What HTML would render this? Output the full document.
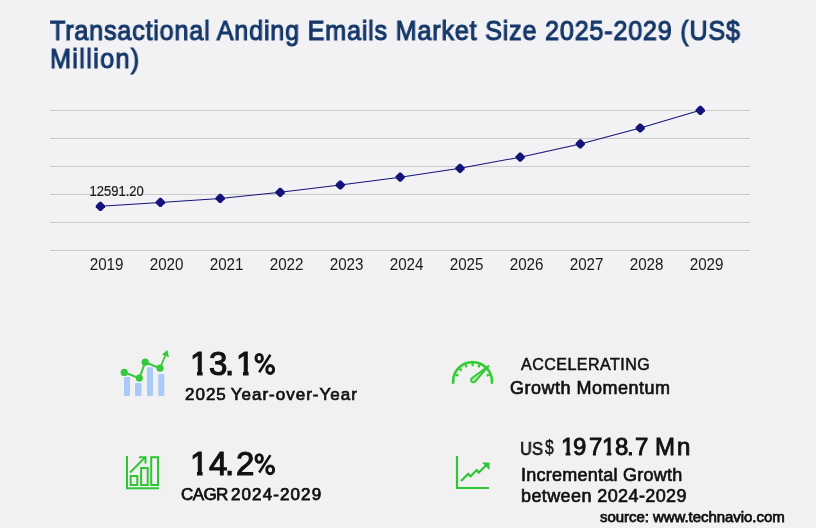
<!DOCTYPE html>
<html>
<head>
<meta charset="utf-8">
<style>
html,body{margin:0;padding:0;}
body{width:816px;height:528px;overflow:hidden;background:#f2f2f5;position:relative;font-family:"Liberation Sans",sans-serif;}
.t{position:absolute;white-space:nowrap;line-height:1;will-change:transform;}
#title{left:50px;top:16.5px;font-size:28px;font-weight:400;color:#163869;-webkit-text-stroke:1.1px #163869;letter-spacing:0.86px;line-height:28px;transform:scaleX(0.9);transform-origin:0 0;}
#panel{position:absolute;left:31px;top:330px;width:761px;height:166px;background:#f1f1f1;}
svg{position:absolute;left:0;top:0;will-change:transform;}
.g{will-change:transform;position:absolute;line-height:1;white-space:nowrap;font-size:33px;color:#111;-webkit-text-stroke:1.1px #111;}
.g2{will-change:transform;position:absolute;line-height:1;white-space:nowrap;font-size:24px;color:#111;-webkit-text-stroke:0.9px #111;}
.one2{clip-path:polygon(0 0,100% 0,100% 17px,9.4px 17px,9.4px 30px,4.6px 30px,4.6px 17px,0 17px);}
.one{clip-path:polygon(0 0,100% 0,100% 25px,12.6px 25px,12.6px 40px,7px 40px,7px 25px,0 25px);}
.m{color:#111;font-weight:400;-webkit-text-stroke:0.65px #111;}
</style>
</head>
<body>
<div id="panel"></div>
<div class="t" id="title">Transactional Anding Emails Market Size 2025-2029 (US$<br><span style="letter-spacing:1.5px">Million)</span></div>

<svg width="816" height="528" viewBox="0 0 816 528">
  <g stroke="#e8ecee" stroke-width="1" stroke-dasharray="1.5,1">
    <line x1="35.5" y1="496" x2="19.5" y2="528"/>
    <line x1="782" y1="496" x2="797.5" y2="528"/>
  </g>
  <g stroke="#cccccc" stroke-width="1">
    <line x1="50" y1="110.5" x2="750" y2="110.5"/>
    <line x1="50" y1="138.5" x2="750" y2="138.5"/>
    <line x1="50" y1="166.5" x2="750" y2="166.5"/>
    <line x1="50" y1="194.5" x2="750" y2="194.5"/>
    <line x1="50" y1="222.5" x2="750" y2="222.5"/>
    <line x1="50" y1="250.5" x2="750" y2="250.5"/>
  </g>
  <polyline fill="none" stroke="#14137a" stroke-width="1.05" points="100.4,206.3 160.4,202.4 220.2,198.4 280.2,192.3 340.3,185 400.2,177.2 460,168.3 520.2,157.2 580.3,143.9 640.2,128 700.3,110.3"/>
  <g fill="#14137a">
    <path id="d" d="M-0.9,-4.6 L0.9,-4.6 L4.6,-0.9 L4.6,0.9 L0.9,4.6 L-0.9,4.6 L-4.6,0.9 L-4.6,-0.9Z" transform="translate(100.4,206.3)"/>
    <use href="#d" x="60" y="-3.9"/>
    <use href="#d" x="119.8" y="-7.9"/>
    <use href="#d" x="179.8" y="-14"/>
    <use href="#d" x="239.9" y="-21.3"/>
    <use href="#d" x="299.8" y="-29.1"/>
    <use href="#d" x="359.6" y="-38"/>
    <use href="#d" x="419.8" y="-49.1"/>
    <use href="#d" x="479.9" y="-62.4"/>
    <use href="#d" x="539.8" y="-78.3"/>
    <use href="#d" x="599.9" y="-96"/>
  </g>
  <g font-family="Liberation Sans" font-size="16" fill="#1a1a1a" text-anchor="middle">
    <text x="0" y="0" transform="translate(106.6,270.3) scale(0.95,1)">2019</text>
    <text x="0" y="0" transform="translate(166.6,270.3) scale(0.95,1)">2020</text>
    <text x="0" y="0" transform="translate(226.6,270.3) scale(0.95,1)">2021</text>
    <text x="0" y="0" transform="translate(286.6,270.3) scale(0.95,1)">2022</text>
    <text x="0" y="0" transform="translate(346.6,270.3) scale(0.95,1)">2023</text>
    <text x="0" y="0" transform="translate(406.6,270.3) scale(0.95,1)">2024</text>
    <text x="0" y="0" transform="translate(466.6,270.3) scale(0.95,1)">2025</text>
    <text x="0" y="0" transform="translate(526.6,270.3) scale(0.95,1)">2026</text>
    <text x="0" y="0" transform="translate(586.6,270.3) scale(0.95,1)">2027</text>
    <text x="0" y="0" transform="translate(646.6,270.3) scale(0.95,1)">2028</text>
    <text x="0" y="0" transform="translate(706.6,270.3) scale(0.95,1)">2029</text>
  </g>
  <text x="0" y="0" transform="translate(89.5,196.2) scale(0.93,1)" font-family="Liberation Sans" font-size="14" fill="#1a1a1a" stroke="#1a1a1a" stroke-width="0.2">12591.20</text>

  
  <!-- percent glyphs -->
  <g id="pct" fill="none" stroke="#111">
    <ellipse cx="259.2" cy="358.2" rx="3.2" ry="3.85" stroke-width="2.9"/>
    <ellipse cx="270.2" cy="369.5" rx="3.45" ry="3.95" stroke-width="2.9"/>
    <line x1="270.4" y1="354.8" x2="259.2" y2="372.2" stroke-width="2.5"/>
  </g>
  <use href="#pct" x="0" y="100.3"/>

  <!-- icon 1: bars + line -->
  <g fill="#a9c9f7">
    <rect x="124" y="377" width="6" height="19" rx="1"/>
    <rect x="135" y="383" width="6.5" height="13" rx="1"/>
    <rect x="147" y="367.3" width="6" height="28.7" rx="1"/>
    <rect x="158.3" y="374" width="6" height="22" rx="1"/>
  </g>
  <g stroke="#36c83c" stroke-width="2" fill="none" stroke-linecap="round">
    <polyline points="124.2,372.4 139.3,378.1 145.2,362.2 160,368.2"/>
    <line x1="160" y1="368.2" x2="165.5" y2="355" stroke-width="1.7"/>
  </g>
  <g fill="#36c83c">
    <circle cx="124.2" cy="372.4" r="3.6"/>
    <circle cx="139.3" cy="378.1" r="3.6"/>
    <circle cx="145.2" cy="362.2" r="3.6"/>
    <circle cx="160" cy="368.2" r="3.6"/>
    <path d="M167.3,350 L169,357.2 L162,354.6Z"/>
  </g>

  <!-- icon 2: gauge -->
  <g stroke="#33cc33" fill="none" stroke-width="2.6">
    <path d="M453.10,383.8 L453.10,381.5 A19.45,19.45 0 0 1 492.00,381.5 L492.00,383.8"/>
  </g>
  <g stroke="#33cc33" stroke-width="2.2">
    <line x1="486.69" y1="375.64" x2="489.64" y2="374.42"/><line x1="478.41" y1="367.36" x2="479.63" y2="364.41"/><line x1="472.55" y1="366.20" x2="472.55" y2="363.00"/><line x1="466.69" y1="367.36" x2="465.47" y2="364.41"/><line x1="461.73" y1="370.68" x2="459.47" y2="368.42"/><line x1="458.41" y1="375.64" x2="455.46" y2="374.42"/>
  </g>
  <path d="M488.5,366 L474.97,381.68 A2.3,2.3 0 1 1 471.83,378.32 Z" fill="#b8e8b8" stroke="#33cc33" stroke-width="2" stroke-linejoin="round"/>

  <!-- icon 3: CAGR -->
  <g stroke="#2fc536" fill="none" stroke-width="2">
    <polyline points="127,456 127,488.2 159,488.2"/>
    <rect x="130.7" y="476" width="6.6" height="9"/>
    <rect x="141.1" y="468" width="6.6" height="17"/>
    <rect x="151.2" y="457.2" width="6.8" height="27.8"/>
    <line x1="130" y1="472.5" x2="145" y2="457.5"/>
    <polyline points="139,457.2 145.5,457.2 145.5,463.5"/>
  </g>

  <!-- icon 4: incremental -->
  <g stroke="#2fc536" fill="none" stroke-width="2.2">
    <polyline points="457,456 457,488 489,488"/>
    <polyline points="461,481 468.2,473.9 470.6,476.3 476.7,470.1 478.6,472.5 487,464.5"/>
  </g>
  <path d="M482,462.5 L489.5,462.5 L489.5,470 Z" fill="#2fc536"/>
</svg>

<div class="g one" style="left:190.3px;top:347px;">1</div>
<div class="g" style="left:208.6px;top:347px;">3</div>
<div class="g" style="left:224.9px;top:347px;">.</div>
<div class="g one" style="left:235.8px;top:347px;">1</div>
<div class="t m" style="left:185px;top:386px;font-size:17px;letter-spacing:1px;word-spacing:-1.5px;-webkit-text-stroke:0.7px #111;">2025 Year-over-Year</div>

<div class="t m" style="left:521px;top:356.5px;font-size:16px;letter-spacing:0.5px;-webkit-text-stroke:0.55px #111;">ACCELERATING</div>
<div class="t m" style="left:510px;top:379px;font-size:18px;letter-spacing:0.5px;">Growth Momentum</div>

<div class="g one" style="left:190.3px;top:447px;">1</div>
<div class="g" style="left:208.9px;top:447px;">4</div>
<div class="g" style="left:225px;top:447px;">.</div>
<div class="g" style="left:235.8px;top:447px;">2</div>
<div class="t m" style="left:180.5px;top:486px;font-size:17px;letter-spacing:-0.6px;-webkit-text-stroke:0.75px #111;">CAGR</div>
<div class="t m" style="left:231px;top:486px;font-size:17px;letter-spacing:1.1px;-webkit-text-stroke:0.75px #111;">2024-2029</div>

<div class="t m" style="left:520px;top:441px;font-size:17.5px;-webkit-text-stroke:0.6px #111;transform:scaleX(0.94);transform-origin:0 0;">US</div>
<div class="t m" style="left:545.3px;top:436.2px;font-size:21px;-webkit-text-stroke:0.6px #111;transform:scaleX(0.74);transform-origin:0 0;">$</div>
<div class="g2 one2" style="left:560.5px;top:435px;">1</div>
<div class="g2" style="left:572.9px;top:435px;">9</div>
<div class="g2" style="left:589.2px;top:435px;">7</div>
<div class="g2 one2" style="left:602.1px;top:435px;">1</div>
<div class="g2" style="left:614.9px;top:435px;">8</div>
<div class="g2" style="left:627.3px;top:435px;">.</div>
<div class="g2" style="left:634.7px;top:435px;">7</div>
<div class="g2" style="left:654.7px;top:435px;">M</div>
<div class="g2" style="left:677.2px;top:435px;">n</div>
<div class="t m" style="left:520.5px;top:466px;font-size:18px;letter-spacing:0.25px;">Incremental Growth</div>
<div class="t m" style="left:520.5px;top:487px;font-size:18px;letter-spacing:0.4px;">between 2024-2029</div>

<div class="t m" style="left:600px;top:509px;font-size:15px;letter-spacing:-0.05px;-webkit-text-stroke:0.75px #111;">source: www.technavio.com</div>
</body>
</html>
